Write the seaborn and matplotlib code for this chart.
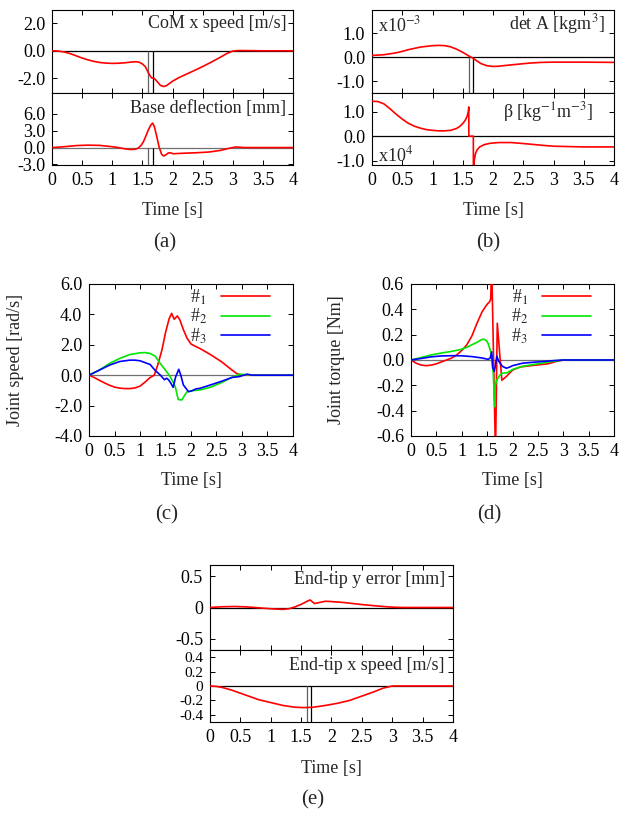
import matplotlib
matplotlib.use("Agg")
import matplotlib.pyplot as plt
import seaborn as sns
import numpy as np

# ---------------- data ----------------
x_ticks = [0, 0.5, 1, 1.5, 2, 2.5, 3, 3.5, 4]
x_ticklabels = ["0", "0.5", "1", "1.5", "2", "2.5", "3", "3.5", "4"]
switch_times = [1.60, 1.67]

# (a) CoM x speed
t_com = [0, 0.1, 0.2, 0.3, 0.4, 0.5, 0.6, 0.7, 0.8, 0.9, 1.0, 1.1, 1.2, 1.3, 1.4, 1.45,
         1.5, 1.55, 1.6, 1.65, 1.7, 1.75, 1.8, 1.85, 1.9, 2.0, 2.1, 2.2, 2.4, 2.6, 2.8,
         2.9, 3.0, 3.1, 3.5, 4.0]
v_com = [0, -0.02, -0.08, -0.2, -0.36, -0.52, -0.66, -0.77, -0.85, -0.89, -0.91, -0.9,
         -0.87, -0.82, -0.79, -0.83, -0.95, -1.15, -1.6, -1.95, -2.0, -2.25, -2.5, -2.58,
         -2.52, -2.2, -1.95, -1.75, -1.35, -0.92, -0.45, -0.2, -0.02, 0.02, 0.0, 0.0]

# (a) Base deflection
t_base = [0, 0.2, 0.4, 0.6, 0.8, 1.0, 1.1, 1.2, 1.3, 1.38, 1.43, 1.48, 1.52, 1.56, 1.6,
          1.64, 1.67, 1.7, 1.74, 1.78, 1.82, 1.85, 1.89, 1.93, 1.97, 2.01, 2.1, 2.2, 2.4,
          2.6, 2.8, 2.95, 3.05, 3.2, 4.0]
v_base = [0, 0.15, 0.35, 0.43, 0.38, 0.15, 0.0, -0.2, -0.35, -0.3, -0.1, 0.4, 1.1, 2.1,
          3.15, 4.0, 4.35, 3.7, 1.9, 0.0, -1.2, -1.5, -1.3, -0.95, -0.95, -1.1, -1.05,
          -1.0, -0.92, -0.8, -0.5, -0.1, 0.1, 0.0, 0.0]

# (b) det A (x1e-3)
t_det = [0, 0.2, 0.4, 0.5, 0.6, 0.8, 1.0, 1.1, 1.2, 1.3, 1.4, 1.5, 1.6, 1.65, 1.7, 1.8,
         1.9, 2.0, 2.1, 2.2, 2.4, 2.6, 2.8, 3.0, 3.5, 4.0]
v_det = [0.07, 0.1, 0.18, 0.24, 0.31, 0.42, 0.48, 0.49, 0.48, 0.43, 0.33, 0.2, 0.05,
         -0.02, -0.1, -0.27, -0.36, -0.39, -0.38, -0.35, -0.3, -0.25, -0.22, -0.21,
         -0.21, -0.22]

# (b) beta (x1e4)
t_beta = [0, 0.1, 0.2, 0.3, 0.4, 0.5, 0.6, 0.7, 0.8, 0.9, 1.0, 1.1, 1.2, 1.3, 1.4, 1.45,
          1.5, 1.54, 1.57, 1.59, 1.60, 1.601, 1.675, 1.676, 1.69, 1.71, 1.74, 1.78, 1.85,
          1.95, 2.1, 2.3, 2.5, 2.8, 3.0, 3.5, 4.0]
v_beta = [1.43, 1.42, 1.32, 1.12, 0.9, 0.7, 0.53, 0.41, 0.33, 0.27, 0.24, 0.22, 0.22,
          0.24, 0.32, 0.4, 0.52, 0.65, 0.8, 0.98, 1.2, 0.0, 0.0, -1.6, -1.0, -0.71, -0.55,
          -0.44, -0.35, -0.29, -0.26, -0.26, -0.3, -0.37, -0.41, -0.44, -0.44]

# (c) joint speeds [rad/s]
t_js1 = [0, 0.1, 0.2, 0.3, 0.4, 0.5, 0.6, 0.7, 0.8, 0.9, 1.0, 1.1, 1.2, 1.28, 1.35, 1.43,
         1.5, 1.57, 1.62, 1.67, 1.73, 1.78, 1.85, 1.92, 2.0, 2.2, 2.4, 2.6, 2.8, 2.9, 3.0,
         3.5, 4.0]
v_js1 = [0, -0.15, -0.33, -0.5, -0.66, -0.78, -0.85, -0.88, -0.88, -0.84, -0.72, -0.45,
         -0.15, 0.0, 0.7, 1.66, 2.8, 3.7, 4.07, 3.68, 3.9, 3.65, 3.0, 2.45, 2.05, 1.71,
         1.32, 0.88, 0.35, 0.1, 0.0, 0.0, 0.0]
t_js2 = [0, 0.2, 0.4, 0.6, 0.8, 1.0, 1.1, 1.2, 1.3, 1.39, 1.5, 1.55, 1.59, 1.65, 1.69,
         1.75, 1.82, 1.87, 1.92, 2.0, 2.18, 2.4, 2.6, 2.8, 2.95, 3.05, 3.2, 4.0]
v_js2 = [0, 0.33, 0.77, 1.1, 1.36, 1.47, 1.49, 1.43, 1.25, 0.8, 0.33, 0.1, -0.1, -0.45,
         -0.75, -1.6, -1.63, -1.35, -1.1, -1.03, -0.97, -0.77, -0.48, -0.15, 0.07, 0.04,
         0.0, 0.0]
t_js3 = [0, 0.2, 0.4, 0.6, 0.8, 0.9, 1.0, 1.2, 1.29, 1.4, 1.48, 1.52, 1.56, 1.6, 1.65,
         1.7, 1.76, 1.8, 1.85, 1.95, 2.0, 2.1, 2.18, 2.4, 2.6, 2.8, 2.95, 3.1, 3.2, 4.0]
v_js3 = [0, 0.33, 0.66, 0.9, 0.99, 0.99, 0.95, 0.7, 0.34, 0.0, -0.3, -0.2, -0.3, -0.5,
         -0.8, -0.1, 0.39, 0.0, -0.64, -1.08, -1.05, -0.9, -0.86, -0.62, -0.4, -0.15,
         -0.09, 0.07, 0.0, 0.0]

# (d) joint torques [Nm]
t_jt1 = [0, 0.1, 0.2, 0.3, 0.4, 0.5, 0.6, 0.7, 0.8, 0.9, 1.0, 1.1, 1.2, 1.3, 1.4, 1.5,
         1.55, 1.57, 1.59, 1.665, 1.70, 1.79, 1.88, 2.0, 2.15, 2.47, 2.7, 2.87, 3.0, 3.5,
         4.0]
v_jt1 = [0, -0.025, -0.04, -0.045, -0.04, -0.03, -0.015, 0.0, 0.015, 0.04, 0.075, 0.12,
         0.19, 0.29, 0.38, 0.44, 0.46, 0.48, 0.75, -0.75, 0.29, -0.16, -0.13, -0.08,
         -0.055, -0.04, -0.03, -0.01, 0.0, 0.0, 0.0]
t_jt2 = [0, 0.2, 0.4, 0.6, 0.8, 1.0, 1.1, 1.2, 1.3, 1.38, 1.43, 1.48, 1.52, 1.56, 1.59,
         1.62, 1.65, 1.66, 1.69, 1.75, 1.8, 1.9, 2.0, 2.2, 2.5, 2.8, 3.0, 3.5, 4.0]
v_jt2 = [0, 0.02, 0.04, 0.055, 0.068, 0.085, 0.1, 0.12, 0.14, 0.158, 0.165, 0.155, 0.13,
         0.08, 0.03, -0.1, -0.37, -0.2, -0.16, -0.12, -0.105, -0.1, -0.075, -0.05, -0.03,
         -0.01, 0.0, 0.0, 0.0]
t_jt3 = [0, 0.2, 0.4, 0.6, 0.8, 1.0, 1.2, 1.4, 1.52, 1.56, 1.59, 1.61, 1.64, 1.66, 1.69,
         1.73, 1.8, 1.88, 1.95, 2.0, 2.2, 2.5, 2.8, 3.0, 3.5, 4.0]
v_jt3 = [0, 0.012, 0.025, 0.032, 0.034, 0.033, 0.027, 0.016, 0.005, 0.015, 0.065, -0.06,
         -0.09, -0.05, 0.03, -0.01, -0.05, -0.065, -0.055, -0.045, -0.025, -0.015,
         -0.005, 0.0, 0.0, 0.0]

# (e) end-tip y error [mm]
t_ey = [0, 0.2, 0.4, 0.6, 0.8, 1.0, 1.2, 1.3, 1.4, 1.5, 1.56, 1.62, 1.65, 1.68, 1.72,
        1.8, 1.9, 2.0, 2.2, 2.5, 2.8, 3.0, 3.2, 4.0]
v_ey = [0, 0.012, 0.016, 0.01, -0.005, -0.02, -0.03, -0.02, 0.01, 0.05, 0.08, 0.11,
        0.12, 0.095, 0.063, 0.08, 0.1, 0.095, 0.08, 0.047, 0.02, 0.005, 0.0, 0.0]

# (e) end-tip x speed [m/s]
t_ex = [0, 0.1, 0.2, 0.35, 0.5, 0.65, 0.8, 1.0, 1.2, 1.4, 1.55, 1.7, 1.9, 2.1, 2.3, 2.5,
        2.7, 2.85, 3.0, 3.5, 4.0]
v_ex = [0, -0.005, -0.02, -0.055, -0.1, -0.145, -0.19, -0.23, -0.27, -0.295, -0.3,
        -0.295, -0.27, -0.24, -0.2, -0.14, -0.08, -0.03, 0.0, 0.0, 0.0]

series_labels = ["#$_1$", "#$_2$", "#$_3$"]
series_colors = ["#ff0000", "#00e600", "#0000ff"]

# ---------------- style ----------------
sns.set_style("ticks")
plt.rcParams["font.family"] = ["Liberation Serif", "DejaVu Serif"]
plt.rcParams["mathtext.fontset"] = "stix"
plt.rcParams["axes.unicode_minus"] = False
plt.rcParams["axes.linewidth"] = 0.8
plt.rcParams["axes.edgecolor"] = "black"
FS = 13

W, H = 619, 816
fig = plt.figure(figsize=(W / 100, H / 100), dpi=100)


def add_ax(left, right, top, bottom):
    return fig.add_axes([left / W, 1 - bottom / H, (right - left) / W, (bottom - top) / H])


def style(ax, ylim, yticks, yticklabels, show_x, ysize=FS):
    ax.set_xlim(0, 4)
    ax.set_ylim(*ylim)
    ax.set_xticks(x_ticks)
    ax.set_xticklabels(x_ticklabels if show_x else [])
    ax.set_yticks(yticks)
    ax.set_yticklabels(yticklabels)
    ax.tick_params(direction="in", top=True, right=True, length=3.5, width=0.7,
                   labelsize=FS, colors="black", pad=5)
    ax.tick_params(axis="y", labelsize=ysize)
    for s in ax.spines.values():
        s.set_visible(True)
        s.set_color("black")
        s.set_linewidth(0.8)
    ax.set_xlabel("")
    ax.set_ylabel("")


def zero(ax, color="black"):
    ax.axhline(0, color=color, lw=0.9, zorder=1)


def switches(ax):
    ymin = ax.get_ylim()[0]
    ax.vlines(switch_times[0], ymin, 0, color="#606060", lw=0.9, zorder=1)
    ax.vlines(switch_times[1], ymin, 0, color="black", lw=0.9, zorder=1)


def line(ax, t, v, color, label=None):
    sns.lineplot(x=t, y=v, ax=ax, color=color, lw=1.2, estimator=None, sort=False,
                 label=label, legend=False, zorder=3)


# ---------- (a) ----------
a1 = add_ax(52, 293, 10, 93)
a2 = add_ax(52, 293, 93, 165)
style(a1, (-3.05, 2.95), [2, 0, -2], ["2.0", "0.0", "-2.0"], False)
style(a2, (-3.1, 9.7), [6, 3, 0, -3], ["6.0", "3.0", "0.0", "-3.0"], True)
zero(a1); zero(a2, "#707070")
switches(a1); switches(a2)
line(a1, t_com, v_com, "#ff0000")
line(a2, t_base, v_base, "#ff0000")
a1.text(0.975, 0.843, "CoM x speed [m/s]", transform=a1.transAxes, ha="right", va="center", fontsize=FS)
a2.text(0.97, 0.78, "Base deflection [mm]", transform=a2.transAxes, ha="right", va="center", fontsize=FS)

# ---------- (b) ----------
b1 = add_ax(372, 614, 10, 93)
b2 = add_ax(372, 614, 93, 165)
style(b1, (-1.5, 1.97), [1, 0, -1], ["1.0", "0.0", "-1.0"], False)
style(b2, (-1.18, 1.77), [1, 0, -1], ["1.0", "0.0", "-1.0"], True)
zero(b1); zero(b2)
switches(b1)
line(b1, t_det, v_det, "#ff0000")
line(b2, t_beta, v_beta, "#ff0000")
b1.text(0.963, 0.83, r"det A [kgm$^3$]", transform=b1.transAxes, ha="right", va="center", fontsize=FS)
b1.text(0.025, 0.82, r"x10$^{-3}$", transform=b1.transAxes, ha="left", va="center", fontsize=FS)
b2.text(0.915, 0.74, r"β [kg$^{-1}$m$^{-3}$]", transform=b2.transAxes, ha="right", va="center", fontsize=FS)
b2.text(0.025, 0.14, r"x10$^4$", transform=b2.transAxes, ha="left", va="center", fontsize=FS)

# ---------- (c) ----------
c = add_ax(89, 293, 284, 436)
style(c, (-4, 6), [6, 4, 2, 0, -2, -4], ["6.0", "4.0", "2.0", "0.0", "-2.0", "-4.0"], True)
zero(c, "#707070")
for t, v, col, lab in zip([t_js1, t_js2, t_js3], [v_js1, v_js2, v_js3], series_colors, series_labels):
    line(c, t, v, col, lab)
c.set_ylabel("Joint speed [rad/s]", fontsize=FS)
c.yaxis.set_label_coords(-0.32, 0.5)

# ---------- (d) ----------
d = add_ax(411, 614, 284, 436)
style(d, (-0.6, 0.6), [0.6, 0.4, 0.2, 0, -0.2, -0.4, -0.6],
      ["0.6", "0.4", "0.2", "0.0", "-0.2", "-0.4", "-0.6"], True)
zero(d, "#707070")
for t, v, col, lab in zip([t_jt1, t_jt2, t_jt3], [v_jt1, v_jt2, v_jt3], series_colors, series_labels):
    line(d, t, v, col, lab)
d.set_ylabel("Joint torque [Nm]", fontsize=FS)
d.yaxis.set_label_coords(-0.325, 0.5)

for ax in (c, d):
    ax.legend(loc="upper right", bbox_to_anchor=(0.905, 1.0), frameon=False, markerfirst=False,
              fontsize=FS, handlelength=2.7, handletextpad=0.8, labelspacing=0.0,
              borderaxespad=0.0, borderpad=0.2)

# ---------- (e) ----------
e1 = add_ax(210, 453, 565, 650)
e2 = add_ax(210, 453, 650, 722)
style(e1, (-0.68, 0.68), [0.5, 0, -0.5], ["0.5", "0", "-0.5"], False)
style(e2, (-0.5, 0.5), [0.4, 0.2, 0, -0.2, -0.4], ["0.4", "0.2", "0", "-0.2", "-0.4"], True,
      ysize=11)
zero(e1); zero(e2)
switches(e2)
line(e1, t_ey, v_ey, "#ff0000")
line(e2, t_ex, v_ex, "#ff0000")
e1.text(0.967, 0.835, "End-tip y error [mm]", transform=e1.transAxes, ha="right", va="center", fontsize=FS)
e2.text(0.967, 0.79, "End-tip x speed [m/s]", transform=e2.transAxes, ha="right", va="center", fontsize=FS)

# ---------- x labels and captions ----------
for xc, yc in [(172.5, 211), (493, 211), (191, 481), (512.5, 481), (331.5, 768)]:
    fig.text(xc / W, 1 - yc / H, "Time [s]", ha="center", va="center", fontsize=FS)
for txt, xc, yc in [("(a)", 165, 243), ("(b)", 488, 243), ("(c)", 167, 515),
                    ("(d)", 489, 515), ("(e)", 313, 800)]:
    fig.text(xc / W, 1 - yc / H, txt, ha="center", va="center", fontsize=15)

fig.savefig("out.png", dpi=100)
